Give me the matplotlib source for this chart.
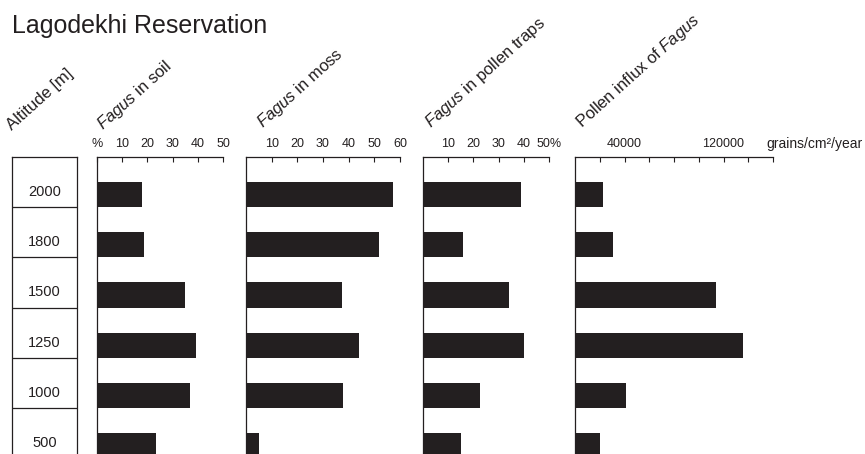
import matplotlib
matplotlib.use("Agg")
import matplotlib.pyplot as plt

plt.rcParams["font.family"] = ["Liberation Sans", "DejaVu Sans"]
plt.rcParams["mathtext.fontset"] = "custom"
plt.rcParams["mathtext.rm"] = "Liberation Sans"
plt.rcParams["mathtext.it"] = "Liberation Sans:italic"

INK = "#231f20"
W, H = 865, 454

# ── data ──────────────────────────────────────────────────────────────────────
altitudes = ["2000", "1800", "1500", "1250", "1000", "500"]
fagus_soil = [17.9, 18.7, 34.9, 39.3, 36.9, 23.4]           # %
fagus_moss = [57.2, 51.8, 37.4, 44.0, 37.7, 5.0]            # %
fagus_traps = [39.0, 15.8, 34.0, 40.0, 22.5, 15.0]          # %
fagus_influx = [22600, 30700, 114000, 135700, 41200, 20200]  # grains/cm2/year

soil_ticks = [0, 10, 20, 30, 40, 50]
soil_labels = ["%", "10", "20", "30", "40", "50"]
moss_ticks = [10, 20, 30, 40, 50, 60]
moss_labels = ["10", "20", "30", "40", "50", "60"]
traps_ticks = [10, 20, 30, 40, 50]
traps_labels = ["10", "20", "30", "40", "50%"]
influx_ticks = [20000, 40000, 60000, 80000, 100000, 120000, 140000, 160000]
influx_labels = ["", "40000", "", "", "", "120000", "", ""]


def px_rect(x0, y0, x1, y1):
    """Figure-fraction rect from pixel box (origin top-left)."""
    return [x0 / W, 1 - y1 / H, (x1 - x0) / W, (y1 - y0) / H]


YLIM = (5.16, -0.74)
AX_TOP, AX_BOT = 157, 454

fig = plt.figure(figsize=(W / 100, H / 100), dpi=100)

fig.text(12 / W, 1 - 33 / H, "Lagodekhi Reservation", fontsize=18,
         color=INK, ha="left", va="baseline")

# ── altitude column ───────────────────────────────────────────────────────────
ax_alt = fig.add_axes(px_rect(12, AX_TOP, 77, AX_BOT))
ax_alt.set_xlim(0, 1)
ax_alt.set_ylim(*YLIM)
ax_alt.set_xticks([])
ax_alt.set_yticks([])
ax_alt.spines["bottom"].set_visible(False)
for s in ax_alt.spines.values():
    s.set_linewidth(0.9)
    s.set_color(INK)
for i, alt in enumerate(altitudes):
    ax_alt.text(0.5, i - 0.05, alt, ha="center", va="center",
                fontsize=10.5, color=INK)
    if i < len(altitudes) - 1:
        ax_alt.axhline(i + 0.25, color=INK, linewidth=0.9)

# ── bar panels ────────────────────────────────────────────────────────────────
panels = [
    dict(x0=97, x1=223, xmax=50, vals=fagus_soil,
         ticks=soil_ticks, labels=soil_labels),
    dict(x0=246, x1=400, xmax=60, vals=fagus_moss,
         ticks=moss_ticks, labels=moss_labels),
    dict(x0=423, x1=549, xmax=50, vals=fagus_traps,
         ticks=traps_ticks, labels=traps_labels),
    dict(x0=575, x1=773, xmax=160000, vals=fagus_influx,
         ticks=influx_ticks, labels=influx_labels),
]

rows = list(range(len(altitudes)))
for p in panels:
    ax = fig.add_axes(px_rect(p["x0"], AX_TOP, p["x1"], AX_BOT))
    ax.barh(rows, p["vals"], height=0.5, left=0, color=INK, edgecolor="none")
    ax.set_xlim(0, p["xmax"])
    ax.set_ylim(*YLIM)
    ax.set_yticks([])
    ax.set_xticks(p["ticks"])
    ax.set_xticklabels(p["labels"])
    ax.tick_params(axis="x", top=True, bottom=False, labeltop=True,
                   labelbottom=False, direction="in", length=3.5,
                   width=0.8, pad=5, labelsize=9, colors=INK)
    for side in ("right", "bottom"):
        ax.spines[side].set_visible(False)
    for side in ("top", "left"):
        ax.spines[side].set_linewidth(0.9)
        ax.spines[side].set_color(INK)

fig.text(766 / W, 1 - 148 / H, "grains/cm²/year", fontsize=10,
         color=INK, ha="left", va="baseline")

# ── rotated column headings ───────────────────────────────────────────────────
headings = [
    (12, 131, "Altitude [m]"),
    (103, 130, r"$\it{Fagus}$ in soil"),
    (263, 128, r"$\it{Fagus}$ in moss"),
    (431, 128, r"$\it{Fagus}$ in pollen traps"),
    (582, 128, r"Pollen influx of $\it{Fagus}$"),
]
for x, y, txt in headings:
    fig.text(x / W, 1 - y / H, txt, rotation=42, rotation_mode="anchor",
             ha="left", va="baseline", fontsize=12, color=INK)

fig.savefig("out.png", dpi=100)
